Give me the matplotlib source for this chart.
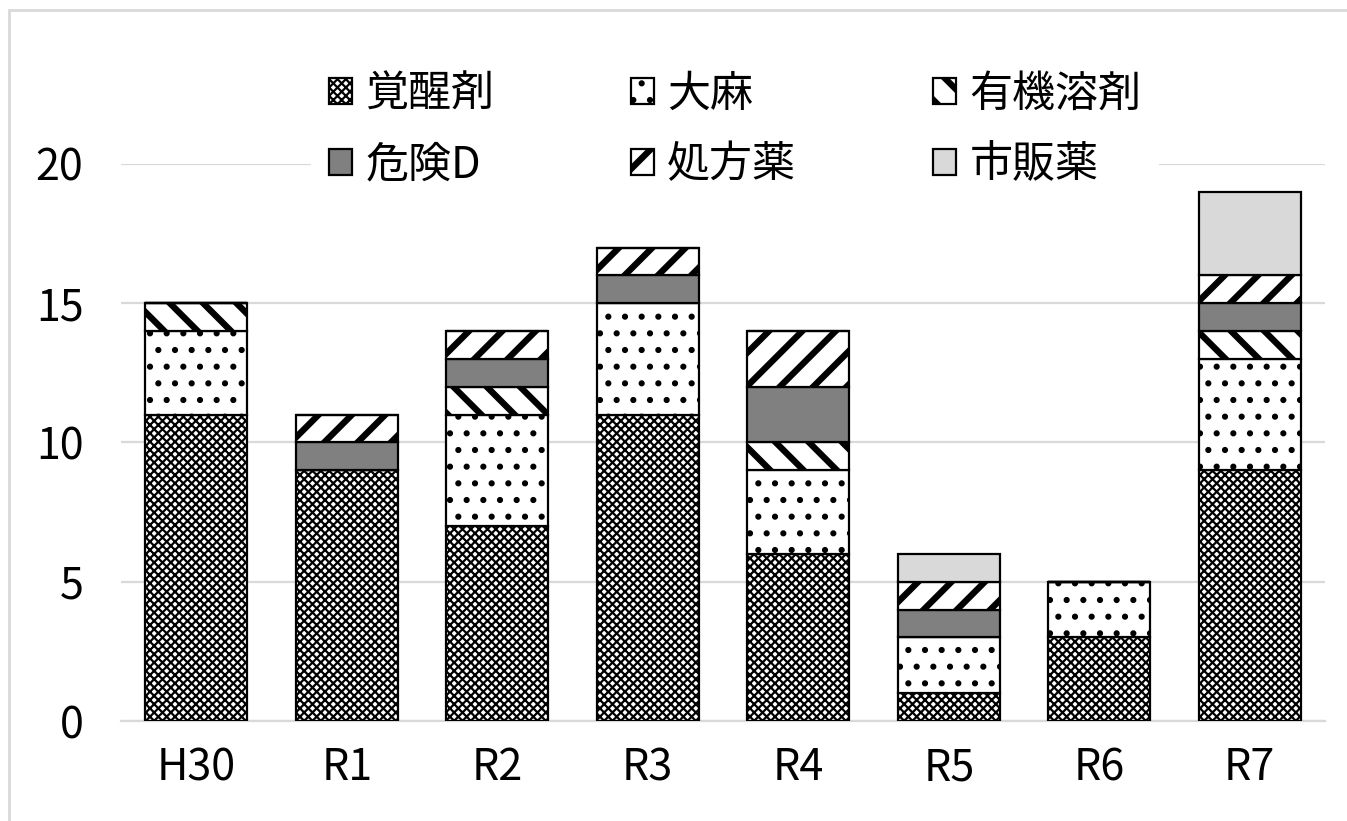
import matplotlib
matplotlib.use('Agg')
import matplotlib.pyplot as plt
from matplotlib.patches import Rectangle, Patch
import numpy as np

plt.rcParams['font.family'] = ['Noto Sans CJK JP', 'DejaVu Sans']

years = ['H30', 'R1', 'R2', 'R3', 'R4', 'R5', 'R6', 'R7']
labels = ['覚醒剤', '大麻', '有機溶剤', '危険D', '処方薬', '市販薬']
stimulant = [11, 9, 7, 11, 6, 1, 3, 9]
cannabis = [3, 0, 4, 4, 3, 2, 2, 4]
solvent = [1, 0, 1, 0, 1, 0, 0, 1]
danger_d = [0, 1, 1, 1, 2, 1, 0, 1]
prescription = [0, 1, 1, 1, 2, 1, 0, 1]
otc = [0, 0, 0, 0, 0, 1, 0, 3]
series = [stimulant, cannabis, solvent, danger_d, prescription, otc]

# style per series: facecolor, hatch, hatch linewidth
styles = [
    ('white', 'xxxxxxxx', 0.8),
    ('white', '..', 1.0),
    ('white', '\\\\', 2.3),
    ('#808080', '', 1.0),
    ('white', '//', 2.3),
    ('#d9d9d9', '', 1.0),
]

fig = plt.figure(figsize=(13.47 / 2, 8.21 / 2), dpi=200)
ax = fig.add_axes([121 / 1347, 1 - 721 / 821, (1325 - 121) / 1347, (721 - 164) / 821])

x = np.arange(len(years))
bottom = np.zeros(len(years))
handles = []
for vals, lab, (fc, hatch, hlw) in zip(series, labels, styles):
    plt.rcParams['hatch.linewidth'] = hlw
    vals = np.array(vals, dtype=float)
    bars = ax.bar(x, vals, 0.68, bottom=bottom, color=fc, hatch=hatch,
                  edgecolor='black', linewidth=0.8, zorder=3)
    for b in bars:
        if hasattr(b, 'set_hatch_linewidth'):
            b.set_hatch_linewidth(hlw)
    h = Patch(facecolor=fc, hatch=hatch, edgecolor='black', linewidth=0.8, label=lab)
    if hasattr(h, 'set_hatch_linewidth'):
        h.set_hatch_linewidth(hlw)
    handles.append(h)
    bottom += vals

ax.set_xlim(-0.5, 7.5)
ax.set_ylim(0, 20)
ax.set_yticks([0, 5, 10, 15, 20])
ax.set_xticks(x)
ax.set_xticklabels(years)
ax.tick_params(axis='both', length=0, labelsize=15.5)
ax.tick_params(axis='x', pad=9)
ax.tick_params(axis='y', pad=13.5)
ax.grid(axis='y', color='#d9d9d9', linewidth=0.8, zorder=0)
for s in ['top', 'right', 'left']:
    ax.spines[s].set_visible(False)
ax.spines['bottom'].set_color('#d9d9d9')
ax.spines['bottom'].set_linewidth(0.8)

# legend fills row by row in the reference
order = [0, 3, 1, 4, 2, 5]
leg = ax.legend(handles=[handles[i] for i in order], ncol=3, loc='center',
                bbox_to_anchor=(735 / 1347, 1 - 130 / 821),
                bbox_transform=fig.transFigure, frameon=True, fontsize=15.5,
                handlelength=0.55, handleheight=0.55, handletextpad=0.3,
                columnspacing=3.17, labelspacing=0.62, borderpad=0.4)
leg.get_frame().set_edgecolor('none')
leg.get_frame().set_facecolor('white')
leg.get_frame().set_alpha(1)
leg.set_zorder(5)
for p, i in zip(leg.get_patches(), order):
    if hasattr(p, 'set_hatch_linewidth'):
        p.set_hatch_linewidth(styles[i][2])

fig.patches.append(Rectangle((9 / 1347, -0.1), 1.2, 1 - 10 / 821 + 0.1,
                             transform=fig.transFigure, fill=False,
                             edgecolor='#d9d9d9', linewidth=1.0))

fig.savefig('out.png', dpi=200)
